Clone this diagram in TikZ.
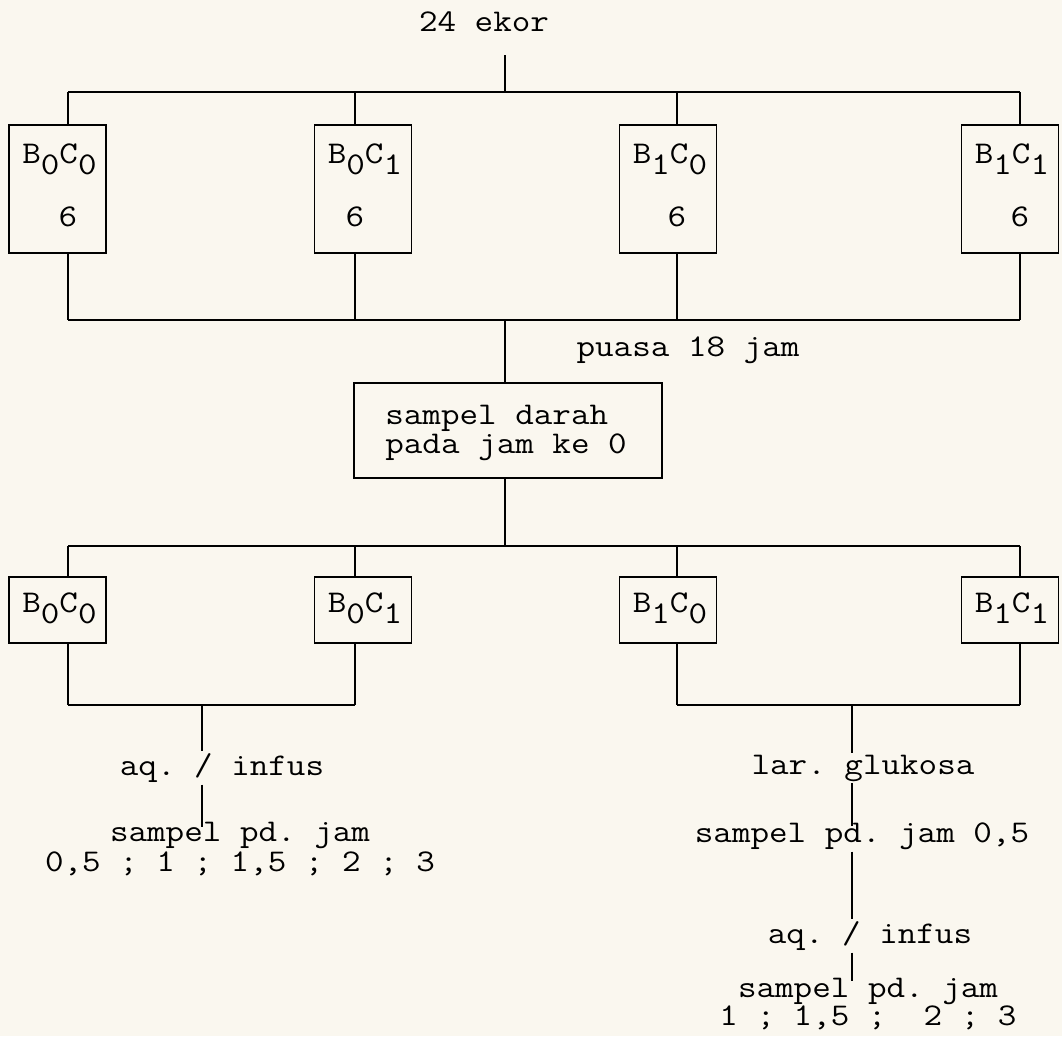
\documentclass[tikz,border=0pt]{standalone}
\usepackage{fontspec}
\setmainfont[FakeStretch=1.14, WordSpace={1,0,0}]{Latin Modern Mono}
\definecolor{kertas}{RGB}{250,247,239}
\newcommand{\kel}[2]{B\raisebox{-6.5pt}{#1}C\raisebox{-6.5pt}{#2}}
\tikzset{
    garis/.style={line width=1pt},
    kotak/.style={draw, line width=1pt, inner sep=0pt, minimum width=1.94cm},
    teks/.style={inner sep=1pt, align=center},
}
\begin{document}
\frenchspacing
\begin{tikzpicture}[x=0.02cm, y=-0.02cm, font=\fontsize{18}{17.5}\selectfont]
    \fill[kertas] (0,0) rectangle (1062,1036);
    \useasboundingbox (0,0) rectangle (1062,1036);
    % Jumlah hewan
    \node[teks] (ekor) at (484, 22) {24 ekor};
    \coordinate (ekor-a) at (505, 55);
    \coordinate (atas) at (505, 92);
    \draw[garis] (ekor-a) -- (atas);
    % Empat kelompok awal
    \foreach \nama/\tx/\sx/\bi/\ci in {k1/57.5/68/0/0, k2/363/355/0/1, k3/668/677/1/0, k4/1010/1020/1/1}
    {
        \node[kotak, minimum height=2.56cm] (\nama) at (\tx, 189) {};
        \node[anchor=base west, inner sep=0pt] (\nama-kel) at (\tx-35.5, 163) {\kel{\bi}{\ci}};
        \node[inner sep=0pt] (\nama-n) at (\sx, 217) {6};
        \coordinate (\nama-a) at (\sx, 92);
        \coordinate (\nama-b) at (\sx, 320);
        \draw[garis] (\nama-a) -- (\nama-a |- \nama.north);
        \draw[garis] (\nama.south -| \nama-b) -- (\nama-b);
    }
    \draw[garis] (k1-a) -- (k4-a);
    \draw[garis] (k1-b) -- (k4-b);
    % Puasa dan sampel jam ke 0
    \node[teks] (puasa) at (688, 350) {puasa 18 jam};
    \coordinate (tengah) at (505, 320);
    \node[kotak, minimum width=6.16cm, minimum height=1.9cm] (sampel) at (508, 430.5) {};
    \node[anchor=west, inner sep=0pt, align=left, font=\fontsize{18}{16.5}\selectfont]
        (sampel-t) at (385, 433) {sampel darah\\pada jam ke 0};
    \draw[garis] (tengah) -- (tengah |- sampel.north);
    \coordinate (bawah) at (505, 546);
    \draw[garis] (sampel.south -| bawah) -- (bawah);
    % Empat kelompok perlakuan
    \foreach \nama/\tx/\sx/\bi/\ci in {p1/57.5/68/0/0, p2/363/355/0/1, p3/668/677/1/0, p4/1010/1020/1/1}
    {
        \node[kotak, minimum height=1.32cm] (\nama) at (\tx, 610) {};
        \node[anchor=base west, inner sep=0pt] (\nama-kel) at (\tx-35.5, 612) {\kel{\bi}{\ci}};
        \coordinate (\nama-a) at (\sx, 546);
        \coordinate (\nama-b) at (\sx, 705);
        \draw[garis] (\nama-a) -- (\nama-a |- \nama.north);
        \draw[garis] (\nama.south -| \nama-b) -- (\nama-b);
    }
    \draw[garis] (p1-a) -- (p4-a);
    \draw[garis] (p1-b) -- (p2-b);
    \draw[garis] (p3-b) -- (p4-b);
    % Cabang kiri
    \coordinate (kiri) at (202, 705);
    \node[teks] (aq1) at (222, 768) {aq. / infus};
    \node[teks, font=\fontsize{18}{17.5}\selectfont] (sp1) at (240, 849) {sampel pd. jam\\0,5 ; 1 ; 1,5 ; 2 ; 3};
    \draw[garis] (kiri) -- (kiri |- aq1.north);
    \draw[garis] (aq1.south -| kiri) -- ([yshift=-4pt]sp1.north -| kiri);
    % Cabang kanan
    \coordinate (kanan) at (852, 705);
    \node[teks] (lar) at (863, 768) {lar. glukosa};
    \node[teks] (sp2) at (862, 836) {sampel pd. jam 0,5};
    \node[teks] (aq2) at (870, 936) {aq. / infus};
    \node[teks, font=\fontsize{18}{14.5}\selectfont] (sp3) at (868, 1004) {sampel pd. jam\\1 ; 1,5 ; \ 2 ; 3};
    \draw[garis] (kanan) -- (kanan |- lar.north);
    \draw[garis] (lar.south -| kanan) -- ([yshift=-3pt]sp2.north -| kanan);
    \draw[garis] (sp2.south -| kanan) -- (aq2.north -| kanan);
    \draw[garis] (aq2.south -| kanan) -- ([yshift=-3pt]sp3.north -| kanan);
\end{tikzpicture}
\end{document}
